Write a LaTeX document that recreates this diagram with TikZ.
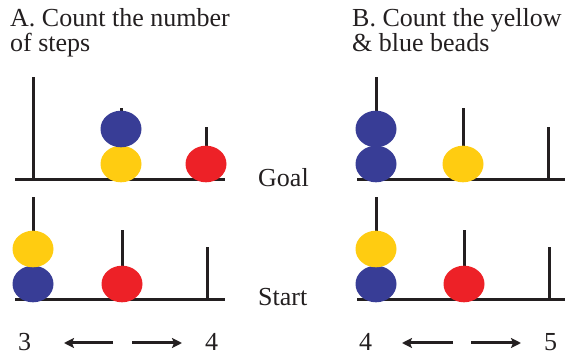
\documentclass[tikz,border=0pt]{standalone}
\usepackage{fontspec}
\setmainfont{Liberation Serif}
\usetikzlibrary{arrows.meta}
\definecolor{beadblue}{RGB}{56,61,150}
\definecolor{beadyellow}{RGB}{255,204,17}
\definecolor{beadred}{RGB}{237,33,39}
\definecolor{ink}{RGB}{35,31,32}
\begin{document}
\begin{tikzpicture}[x=1pt,y=-1pt,
  lbl/.style={inner sep=0pt,anchor=base west,text=ink,font=\fontsize{26}{25}\selectfont},
  rod/.style={line width=3pt,ink},
  base/.style={line width=3pt,ink},
  bead/.style={x radius=20.5pt,y radius=18.3pt},
  arr/.style={line width=3pt,ink,-{Stealth[length=10pt,width=10pt,inset=2pt]}}]
\useasboundingbox (0,0) rectangle (565,355);
% titles
\node[lbl] (tA1) at (10,27) {A. Count the number};
\node[lbl] (tA2) at (10,52) {of steps};
\node[lbl] (tB1) at (352,27) {B. Count the yellow};
\node[lbl] (tB2) at (352,52) {\& blue beads};
\node[lbl] (goal) at (258,187) {Goal};
\node[lbl] (start) at (258,306) {Start};
% ---------- Panel A goal ----------
\draw[base] (15,180) -- (225,180);
\draw[rod] (33,180) -- (33,77);
\draw[rod] (121,180) -- (121,108);
\draw[rod] (206,180) -- (206,127);
\fill[beadyellow] (121,164) ellipse [bead];
\fill[beadblue] (121,129) ellipse [bead];
\fill[beadred] (206,164) ellipse [bead];
% ---------- Panel A start ----------
\draw[base] (15,300) -- (225,300);
\draw[rod] (33,300) -- (33,197);
\draw[rod] (122,300) -- (122,230);
\draw[rod] (207,300) -- (207,247);
\fill[beadblue] (33,284) ellipse [bead];
\fill[beadyellow] (33,249) ellipse [bead];
\fill[beadred] (122,284) ellipse [bead];
% ---------- Panel B goal ----------
\draw[base] (357,180) -- (565,180);
\draw[rod] (376,180) -- (376,77);
\draw[rod] (463,180) -- (463,108);
\draw[rod] (548,180) -- (548,127);
\fill[beadblue] (376,164) ellipse [bead];
\fill[beadblue] (376,129) ellipse [bead];
\fill[beadyellow] (463,164) ellipse [bead];
% ---------- Panel B start ----------
\draw[base] (357,300) -- (565,300);
\draw[rod] (376,300) -- (376,197);
\draw[rod] (464,300) -- (464,230);
\draw[rod] (549,300) -- (549,247);
\fill[beadblue] (376,284) ellipse [bead];
\fill[beadyellow] (376,249) ellipse [bead];
\fill[beadred] (464,284) ellipse [bead];
% ---------- bottom counts ----------
\node[lbl] (nA1) at (18,350) {3};
\node[lbl] (nA2) at (205,350) {4};
\node[lbl] (nB1) at (359,350) {4};
\node[lbl] (nB2) at (544,350) {5};
\coordinate (aL) at (113,343);
\coordinate (aLend) at (64,343);
\coordinate (aR) at (132,343);
\coordinate (aRend) at (182,343);
\coordinate (bL) at (453,343);
\coordinate (bLend) at (402,343);
\coordinate (bR) at (471,343);
\coordinate (bRend) at (521,343);
\draw[arr] (aL) -- (aLend);
\draw[arr] (aR) -- (aRend);
\draw[arr] (bL) -- (bLend);
\draw[arr] (bR) -- (bRend);
\end{tikzpicture}
\end{document}
